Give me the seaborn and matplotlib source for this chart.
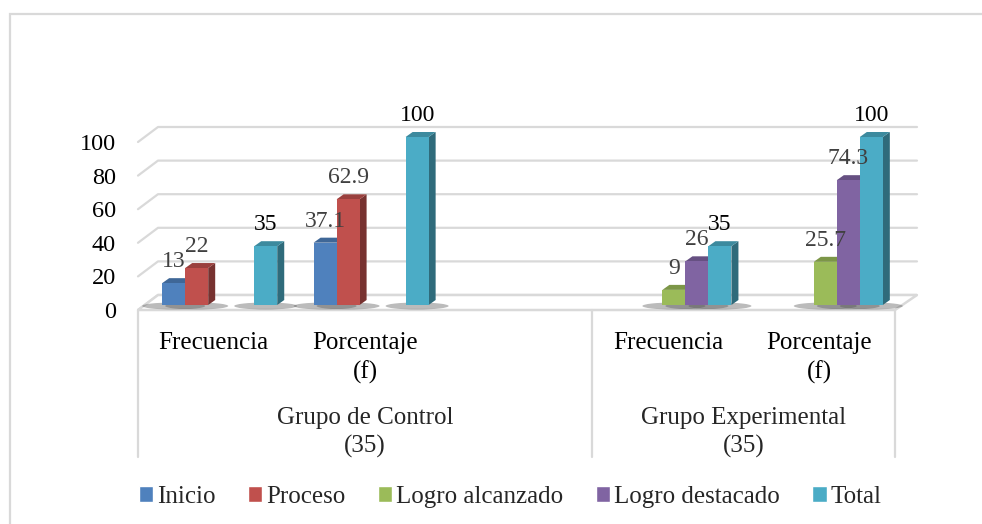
import matplotlib
matplotlib.use("Agg")
import matplotlib.pyplot as plt
import numpy as np
import pandas as pd
import seaborn as sns
from matplotlib.colors import to_rgb
from matplotlib.lines import Line2D
from matplotlib.patches import Ellipse, Polygon, Rectangle
from matplotlib.transforms import Affine2D, IdentityTransform

# category slots (third control slot is empty in the original chart)
slots = ["gc_f", "gc_p", "gc_x", "ge_f", "ge_p"]
slot_labels = ["Frecuencia", "Porcentaje\n(f)", "", "Frecuencia", "Porcentaje\n(f)"]
groups = ["Grupo de Control\n(35)", "Grupo Experimental\n(35)"]
group_centers = [1, 3.5]
series = ["Inicio", "Proceso", "Logro alcanzado", "Logro destacado", "Total"]
colors = ["#4F81BD", "#C0504D", "#9BBB59", "#8064A2", "#4BACC6"]

inicio = [13, 37.1, None, None, None]
proceso = [22, 62.9, None, None, None]
logro_alcanzado = [None, None, None, 9, 25.7]
logro_destacado = [None, None, None, 26, 74.3]
total = [35, 100, None, 35, 100]

rows = []
for name, vals in zip(series, [inicio, proceso, logro_alcanzado, logro_destacado, total]):
    for s, v in zip(slots, vals):
        if v is not None:
            rows.append({"slot": s, "serie": name, "valor": v})
df = pd.DataFrame(rows)

W, H = 982, 524
sns.set_style("white")
plt.rcParams["font.family"] = ["Liberation Serif", "DejaVu Serif"]

fig = plt.figure(figsize=(W / 100, H / 100), dpi=100)
ax = fig.add_axes([138 / W, 1 - 310 / H, (895 - 138) / W, (310 - 142) / H])

sns.barplot(data=df, x="slot", y="valor", hue="serie", order=slots, hue_order=series,
            palette=colors, width=0.76, saturation=1, errorbar=None, ax=ax)

ax.set_xlim(-0.5, 4.5)
ax.set_ylim(0, 100)
ax.set_xlabel("")
ax.set_ylabel("")
sns.despine(ax=ax, left=True, bottom=True)
ax.set_yticks(range(0, 101, 20))
ax.set_xticks(range(len(slots)), slot_labels)
ax.tick_params(axis="y", length=0, pad=16, labelsize=17.5, labelcolor="black")
ax.tick_params(axis="x", length=0, pad=16, labelsize=18, labelcolor="black")
for lbl in ax.get_xticklabels():
    lbl.set_linespacing(1.38)

# group labels and category box
xt = ax.get_xaxis_transform()
for c, g in zip(group_centers, groups):
    ax.text(c, -0.58, g, transform=xt, ha="center", va="top", fontsize=18, linespacing=1.29)
for xs in [-0.5, 2.5, 4.5]:
    ax.add_line(Line2D([xs, xs], [0, -0.875], transform=xt, color="#d9d9d9", lw=1.6, clip_on=False))

# 3D-ish back wall gridlines and floor (pixel offsets)
back_dx, back_dy = 20, 15
fx0, _ = ax.transData.transform((-0.5, 0))
fx1, _ = ax.transData.transform((4.5, 0))
for v in range(0, 101, 20):
    y = ax.transData.transform((0, v))[1]
    ax.add_artist(Line2D([fx0, fx0 + back_dx, fx1 + 22], [y, y + back_dy, y + back_dy],
                         transform=IdentityTransform(), color="#d9d9d9", lw=1.6, clip_on=False, zorder=1))
y0f = ax.transData.transform((0, 0))[1]
floor = Polygon([(fx0, y0f), (fx1, y0f), (fx1 + 22, y0f + back_dy), (fx0 + back_dx, y0f + back_dy)],
                closed=True, transform=IdentityTransform(), facecolor="white",
                edgecolor="#d9d9d9", lw=1.8, clip_on=False, zorder=1.2)
ax.add_artist(floor)

# bars: shift front faces, add side/top faces and shadows
ox, oy = 6, 5
dx, dy = 7, 5
bars = [b for cont in ax.containers for b in cont]
bars.sort(key=lambda b: b.get_x())
rgb_list = [to_rgb(col) for col in colors]
for k, bar in enumerate(bars):
    (x0, y0), (x1, y1) = ax.transData.transform([(bar.get_x(), 0),
                                                 (bar.get_x() + bar.get_width(), bar.get_height())])
    x0 += ox; x1 += ox; y0 += oy; y1 += oy
    base = 3 + k * 0.1
    bar.set_transform(ax.transData + Affine2D().translate(ox, oy))
    bar.set_clip_on(False)
    bar.set_zorder(base)
    bar.set_linewidth(0)
    c = np.array(to_rgb(bar.get_facecolor()))
    side = Polygon([(x1, y0), (x1, y1), (x1 + dx, y1 + dy), (x1 + dx, y0 + dy)], closed=True,
                   transform=IdentityTransform(), facecolor=c * 0.62, edgecolor="none",
                   clip_on=False, zorder=base - 0.05)
    top = Polygon([(x0, y1), (x1, y1), (x1 + dx, y1 + dy), (x0 + dx, y1 + dy)], closed=True,
                  transform=IdentityTransform(), facecolor=c * 0.8, edgecolor="none",
                  clip_on=False, zorder=base - 0.04)
    shadow = Ellipse(((x0 + x1) / 2, y0 - 1), (x1 - x0) + 40, 7, transform=IdentityTransform(),
                     facecolor="#555555", alpha=0.4, edgecolor="none", clip_on=False, zorder=2)
    for p in (side, top, shadow):
        ax.add_artist(p)
    # value label
    serie = series[rgb_list.index(tuple(c))]
    ax.annotate(f"{bar.get_height():g}", (bar.get_x() + bar.get_width() / 2, bar.get_height()),
                xytext=(ox * 0.72, oy * 0.72 + 8), textcoords="offset points",
                ha="center", va="bottom", fontsize=17,
                color="black" if serie == "Total" else "#404040", zorder=10, annotation_clip=False)

sns.move_legend(ax, "center", bbox_to_anchor=(510 / W, 1 - 497 / H), bbox_transform=fig.transFigure,
                ncol=5, frameon=False, title=None, fontsize=18, handlelength=0.58, handleheight=0.58,
                handletextpad=0.15, columnspacing=1.3)

# outer chart frame
fig.add_artist(Rectangle((10 / W, -0.05), 1.2, 1 - 14 / H + 0.05, transform=fig.transFigure,
                         fill=False, edgecolor="#d9d9d9", lw=1.6))

fig.savefig("out.png", dpi=100)
